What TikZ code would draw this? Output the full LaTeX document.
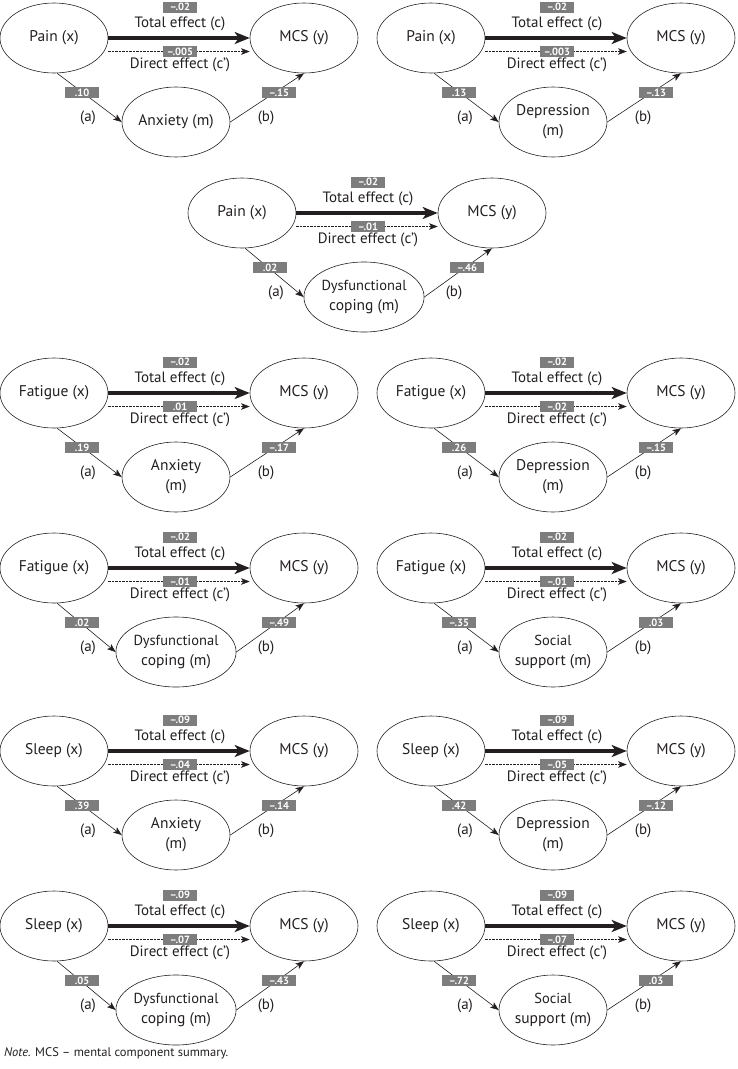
\documentclass[tikz,border=0pt]{standalone}
\usepackage{fontspec}
\setmainfont{PT Sans}
\usetikzlibrary{arrows.meta,calc,shapes.geometric}
\definecolor{coefgray}{RGB}{125,125,125}
\definecolor{inkc}{RGB}{35,31,32}
\tikzset{
  var/.style={draw=inkc, text=inkc, ellipse, line width=0.6pt, minimum width=108pt,
    minimum height=70pt, inner sep=0pt, align=center,
    font=\fontsize{15.5}{20}\selectfont},
  coef/.style={fill=coefgray, text=white, font=\bfseries\fontsize{10.5}{10.5}\selectfont,
    minimum width=34pt, minimum height=11pt, inner sep=0pt},
  lbl/.style={text=inkc, font=\fontsize{15}{16}\selectfont, inner sep=0pt},
  totalarrow/.style={draw=inkc, line width=3.2pt, -{Stealth[length=15pt,width=12pt,inset=4pt]}},
  directarrow/.style={draw=inkc, line width=0.6pt, dash pattern=on 2.5pt off 1pt,
    -{Stealth[length=8.5pt,width=6.5pt,inset=2pt]}},
  medarrow/.style={draw=inkc, line width=0.6pt, -{Stealth[length=8.5pt,width=6.5pt,inset=2pt]}},
}
\newcommand{\smalltwo}{\fontsize{14.5}{18}\selectfont}
% #1 prefix, #2 ox, #3 oy, #4 x label, #5 m label, #6 c, #7 c', #8 a, #9 b
\newcommand{\medpanel}[9]{%
  \node[var] (#1x) at (#2+54,#3) {#4};
  \node[var] (#1y) at (#2+304,#3) {MCS (y)};
  \node[var] (#1m) at (#2+176,#3+84) {#5};
  \draw[totalarrow] (#1x) -- (#1y);
  \draw[directarrow] ([yshift=-13.5pt]#1x.east) -- ([yshift=-13.5pt]#1y.west);
  \draw[medarrow] (#1x.-85) -- (#1m.west);
  \draw[medarrow] (#1m.east) -- (#1y.south);
  \node[coef] (#1cb) at (#2+180,#3-31) {#6};
  \node[lbl] (#1ct) at (#2+180,#3-14.5) {Total effect (c)};
  \node[coef] (#1db) at (#2+180,#3+13.5) {#7};
  \node[lbl] (#1dt) at (#2+180,#3+26.5) {Direct effect (c’)};
  \node[coef] (#1ab) at (#2+82,#3+54.5) {#8};
  \node[lbl] (#1at) at (#2+88,#3+79.5) {(a)};
  \node[coef] (#1bb) at (#2+279,#3+54.5) {#9};
  \node[lbl] (#1bt) at (#2+266,#3+79.5) {(b)};
}
\begin{document}
\begin{tikzpicture}[x=1pt,y=-1pt]
\useasboundingbox (0,0) rectangle (738,1069);
\medpanel{pa}{0}{38}{Pain (x)}{Anxiety (m)}{–.02}{–.005}{.10}{–.15}
\medpanel{pb}{377}{38}{Pain (x)}{Depression\\(m)}{–.02}{–.003}{.13}{–.13}
\medpanel{pc}{188}{213}{Pain (x)}{\smalltwo Dysfunctional\\coping (m)}{–.02}{–.01}{.02}{–.46}
\medpanel{pd}{0}{393}{Fatigue (x)}{Anxiety\\(m)}{–.02}{.01}{.19}{–.17}
\medpanel{pe}{377}{393}{Fatigue (x)}{Depression\\(m)}{–.02}{–.02}{.26}{–.15}
\medpanel{pf}{0}{568}{Fatigue (x)}{\smalltwo Dysfunctional\\coping (m)}{–.02}{–.01}{.02}{–.49}
\medpanel{pg}{377}{568}{Fatigue (x)}{\smalltwo Social\\support (m)}{–.02}{–.01}{–.35}{.03}
\medpanel{ph}{0}{751}{Sleep (x)}{Anxiety\\(m)}{–.09}{–.04}{.39}{–.14}
\medpanel{pi}{377}{751}{Sleep (x)}{Depression\\(m)}{–.09}{–.05}{.42}{–.12}
\medpanel{pj}{0}{926}{Sleep (x)}{\smalltwo Dysfunctional\\coping (m)}{–.09}{–.07}{.05}{–.43}
\medpanel{pk}{377}{926}{Sleep (x)}{\smalltwo Social\\support (m)}{–.09}{–.07}{–.72}{.03}
\node[anchor=west, text=inkc, inner sep=0pt, font=\fontsize{12.5}{14}\selectfont] (note) at (4,1053)
  {\textit{Note.} MCS – mental component summary.};
\end{tikzpicture}
\end{document}
